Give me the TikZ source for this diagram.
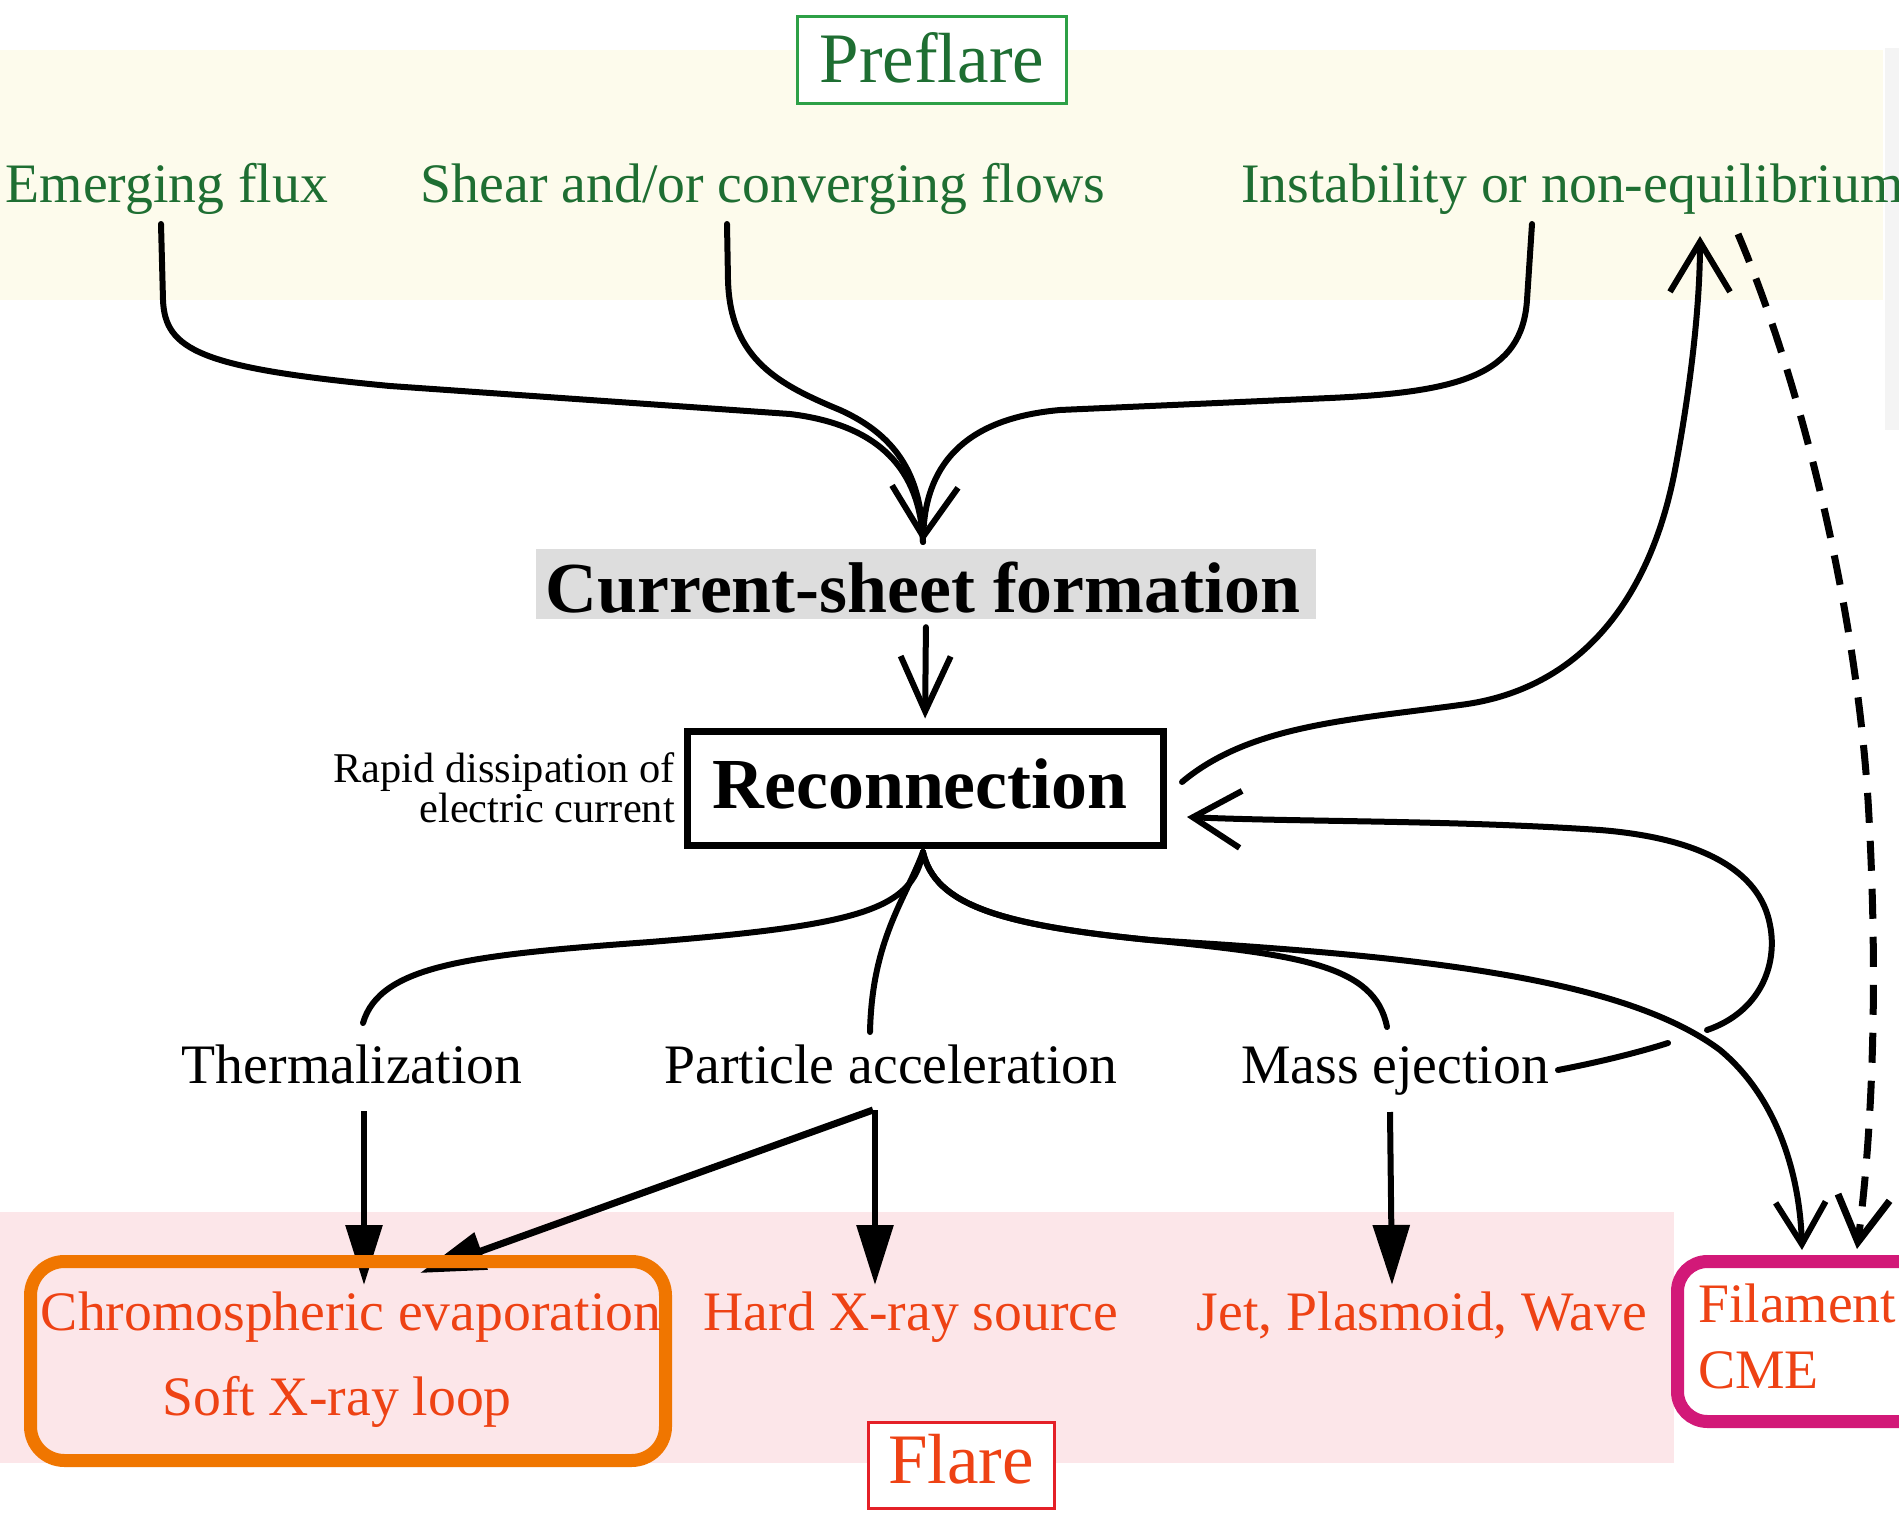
\documentclass[tikz,border=0pt]{standalone}
\usepackage{fontspec}
\setmainfont{Liberation Serif}
\usetikzlibrary{arrows.meta}
\definecolor{pregreen}{RGB}{30,110,50}
\definecolor{preborder}{RGB}{45,160,70}
\definecolor{flred}{RGB}{238,66,20}
\definecolor{flborder}{RGB}{228,32,40}
\definecolor{orbox}{RGB}{240,118,0}
\definecolor{magbox}{RGB}{210,25,120}
\definecolor{yband}{RGB}{253,251,236}
\definecolor{pband}{RGB}{252,230,233}
\definecolor{csgray}{RGB}{221,221,221}
\definecolor{stripgray}{RGB}{244,244,244}
\tikzset{
  txt/.style={inner sep=0pt, anchor=base},
  big/.style={font=\fontsize{55.7}{60}\selectfont},
  huge/.style={font=\fontsize{71}{76}\selectfont},
  hugebf/.style={font=\fontsize{71.8}{76}\selectfont\bfseries},
  small/.style={font=\fontsize{42.4}{46}\selectfont},
  curve/.style={line width=6pt, line cap=round},
  barb/.style={-{Straight Barb[length=50pt,width=66pt]}},
  filled/.style={-{Triangle[length=60pt,width=36pt]}},
}
\begin{document}
\begin{tikzpicture}[x=1pt,y=-1pt]
\useasboundingbox (0,0) rectangle (1899,1517);
\fill[white] (0,0) rectangle (1899,1517);
% bands
\fill[yband] (0,50) rectangle (1883,300);
\fill[stripgray] (1885,48) rectangle (1899,430);
\fill[pband] (0,1212) rectangle (1674,1463);

% Preflare
\node[draw=preborder, line width=3pt, fill=white, minimum width=269pt, minimum height=87pt, inner sep=0pt] (prebox) at (932,60) {};
\node[txt, huge, text=pregreen] (pre) at (932,83) {Preflare};

% top labels
\node[txt, big, text=pregreen] (emerge) at (167,203) {Emerging flux};
\node[txt, big, text=pregreen] (shear) at (763,203) {Shear and/or converging flows};
\node[txt, big, text=pregreen, anchor=base west] (instab) at (1241,203) {Instability or non-equilibrium};

% current sheet
\node[fill=csgray, minimum width=780pt, minimum height=70pt, inner sep=0pt] (csf) at (926,584) {};
\node[txt, hugebf] (csftxt) at (923,612) {Current-sheet formation};

% reconnection
\node[draw=black, line width=7pt, fill=white, minimum width=476pt, minimum height=114pt, inner sep=0pt] (rec) at (925,788) {};
\node[txt, hugebf] (rectxt) at (920,808) {Reconnection};
\node[txt, small, anchor=base east] (rapid1) at (675,782) {Rapid dissipation of};
\node[txt, small, anchor=base east] (rapid2) at (675,822) {electric current};

% middle labels
\node[txt, big] (therm) at (352,1083) {Thermalization};
\node[txt, big] (part) at (891,1083) {Particle acceleration};
\node[txt, big] (mass) at (1395,1083) {Mass ejection};

% coordinates
\coordinate (jn) at (923,542);
\coordinate (e0) at (161,224);
\coordinate (s0) at (727,224);
\coordinate (i0) at (1532,224);
\coordinate (r0) at (1182,782);
\coordinate (itip) at (1700,236);
\coordinate (d0) at (1738,234);
\coordinate (dtip) at (1857,1249);
\coordinate (rb) at (923,852);
\coordinate (th0) at (363,1023);
\coordinate (pa0) at (870,1032);
\coordinate (me0) at (1387,1027);
\coordinate (ftip) at (1802,1250);
\coordinate (m0) at (1558,1070);
\coordinate (m1) at (1668,1043);
\coordinate (m2) at (1707,1030);
\coordinate (rtip) at (1187,817);

% convergence to current sheet
\draw[curve] (e0) -- (163,300) .. controls (165,350) and (200,368) .. (390,386) -- (790,414) .. controls (880,425) and (920,470) .. (jn);
\draw[curve] (s0) -- (728,280) .. controls (730,360) and (780,385) .. (840,410) .. controls (900,437) and (922,480) .. (jn);
\draw[curve, barb] (i0) -- (1527,300) .. controls (1522,375) and (1460,392) .. (1330,398) -- (1060,410) .. controls (970,418) and (926,460) .. (jn);

% current sheet -> reconnection
\draw[curve, -{Straight Barb[length=55pt,width=50pt]}, shorten <=8pt, shorten >=9pt] (csf.south) -- (rec.north);

% reconnection -> instability
\draw[curve, -{Straight Barb[length=50pt,width=60pt]}] (r0) .. controls (1250,725) and (1350,720) .. (1460,705) .. controls (1580,690) and (1650,600) .. (1675,470) .. controls (1692,380) and (1700,300) .. (itip);

% dashed instability -> filament
\draw[line width=7pt, dash pattern=on 30pt off 18pt, -{Straight Barb[length=45pt,width=52pt]}] (d0) .. controls (1800,380) and (1855,600) .. (1868,800) .. controls (1880,1000) and (1870,1150) .. (dtip);

% fan from reconnection
\draw[curve] (rb) .. controls (912,910) and (860,925) .. (650,942) .. controls (470,955) and (380,965) .. (th0);
\draw[curve] (rb) .. controls (905,900) and (872,940) .. (pa0);
\draw[curve] (rb) .. controls (935,905) and (1000,925) .. (1150,940) .. controls (1300,955) and (1375,965) .. (me0);
\draw[curve, -{Straight Barb[length=42pt,width=50pt]}] (rb) .. controls (935,905) and (1000,925) .. (1150,940) .. controls (1400,955) and (1620,975) .. (1720,1050) .. controls (1780,1100) and (1800,1180) .. (ftip);

% mass ejection loop back to reconnection
\draw[curve] (m0) .. controls (1600,1062) and (1640,1052) .. (m1);
\draw[curve, -{Straight Barb[length=48pt,width=57pt]}] (m2) .. controls (1760,1012) and (1778,965) .. (1770,925) .. controls (1760,870) and (1700,838) .. (1600,830) .. controls (1450,820) and (1300,822) .. (rtip);

% down arrows
\draw[line width=6pt, filled] (364,1111) -- (364,1285);
\draw[line width=6pt, filled] (875,1110) -- (875,1285);
\draw[line width=6pt, filled] (1390,1112) -- (1392,1285);
\draw[line width=7pt, -{Triangle[length=65pt,width=38pt]}] (873,1110) -- (420,1273);

% flare boxes
\draw[orbox, line width=13pt, rounded corners=34pt] (30.5,1261.5) rectangle (665.5,1460.5);
\draw[magbox, line width=13pt, fill=white, rounded corners=30pt] (1677.5,1261.5) rectangle (1960,1421.5);

\node[txt, big, text=flred] (chromo) at (351,1330) {Chromospheric evaporation};
\node[txt, big, text=flred] (soft) at (337,1415) {Soft X-ray loop};
\node[txt, big, text=flred] (hard) at (911,1330) {Hard X-ray source};
\node[txt, big, text=flred] (jet) at (1422,1330) {Jet, Plasmoid, Wave};
\node[txt, big, text=flred, anchor=base west] (fil) at (1698,1322) {Filament};
\node[txt, big, text=flred, anchor=base west] (cme) at (1698,1388) {CME};

% Flare
\node[draw=flborder, line width=3pt, fill=white, minimum width=186pt, minimum height=86pt, inner sep=0pt] (flbox) at (961,1465) {};
\node[txt, huge, text=flred] (flare) at (961,1483) {Flare};
\end{tikzpicture}
\end{document}
